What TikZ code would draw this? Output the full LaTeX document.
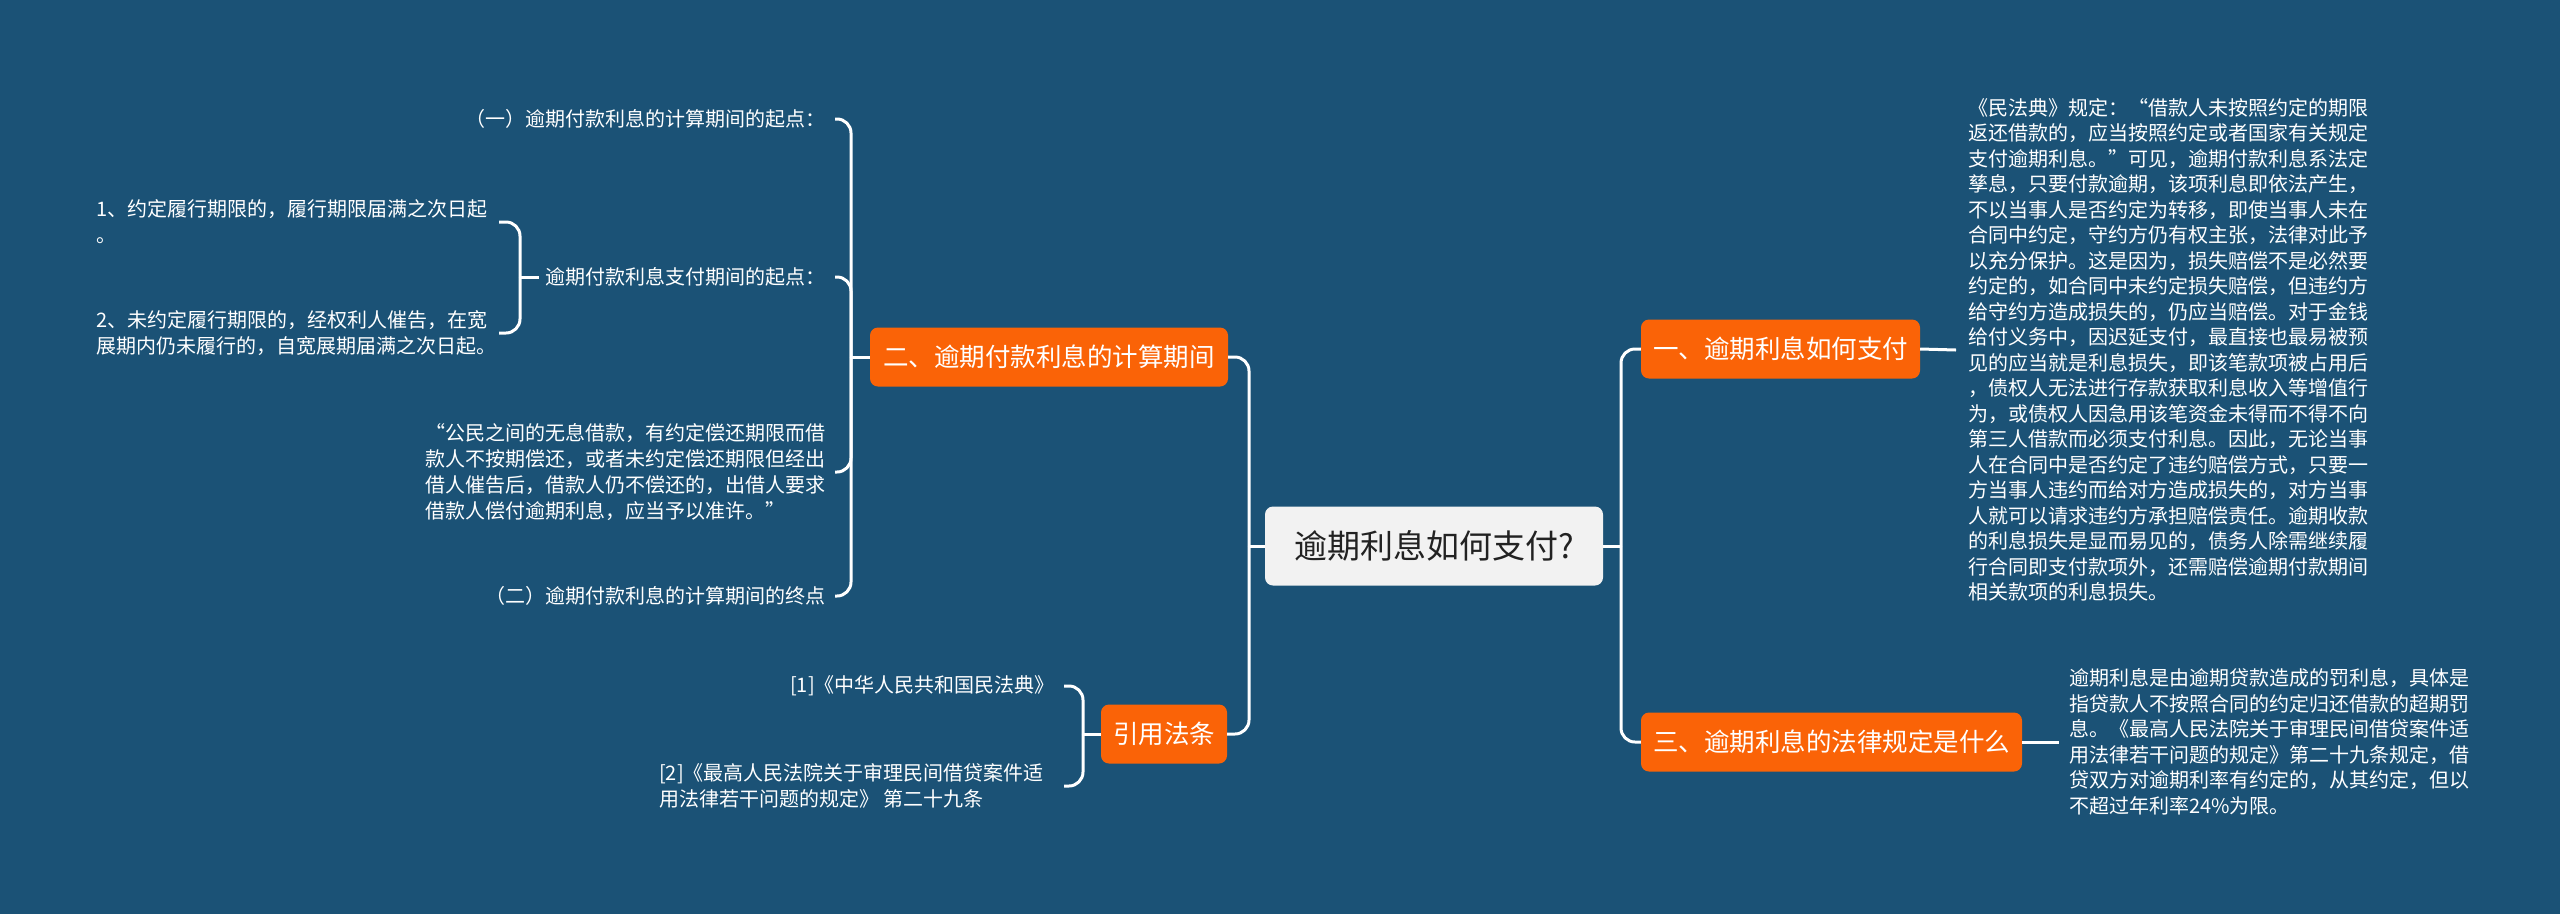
\documentclass[tikz,border=0pt]{standalone}
\usepackage{fontspec}
\setmainfont{Noto Sans CJK SC}
\definecolor{bgc}{RGB}{27,82,118}
\definecolor{orc}{RGB}{250,99,7}
\definecolor{cfill}{RGB}{242,242,242}
\definecolor{ctext}{RGB}{34,34,34}
\begin{document}
\begin{tikzpicture}[x=1pt,y=-1pt,
  obox/.style={fill=orc,text=white,rounded corners=8pt,font=\fontsize{25.5}{30}\selectfont,minimum height=59pt,inner xsep=0pt,inner ysep=0pt},
  cbox/.style={fill=cfill,text=ctext,rounded corners=8pt,font=\fontsize{33}{38}\selectfont,minimum width=338pt,minimum height=79pt,inner sep=0pt},
  leaf/.style={text=white,font=\fontsize{20}{26}\selectfont,inner sep=0pt,align=left},
  rleaf/.style={text=white,font=\fontsize{20}{25.5}\selectfont,inner sep=0pt,align=left},
  link/.style={draw=white,line width=3pt,rounded corners=14pt},
]
\fill[bgc] (0,0) rectangle (2560,914);
\useasboundingbox (0,0) rectangle (2560,914);

% main nodes
\node[cbox] (c) at (1434,546) {逾期利息如何支付?};
\node[obox,minimum width=279pt] (n1) at (1780.5,349) {一、逾期利息如何支付};
\node[obox,minimum width=381pt] (n3) at (1831.5,742) {三、逾期利息的法律规定是什么};
\node[obox,minimum width=358pt] (n2) at (1049,357) {二、逾期付款利息的计算期间};
\node[obox,minimum width=126pt] (n4) at (1164,734) {引用法条};

% right texts
\node[rleaf,anchor=west] (t1) at (1968,350) {《民法典》规定：“借款人未按照约定的期限\\返还借款的，应当按照约定或者国家有关规定\\支付逾期利息。”可见，逾期付款利息系法定\\孳息，只要付款逾期，该项利息即依法产生，\\不以当事人是否约定为转移，即使当事人未在\\合同中约定，守约方仍有权主张，法律对此予\\以充分保护。这是因为，损失赔偿不是必然要\\约定的，如合同中未约定损失赔偿，但违约方\\给守约方造成损失的，仍应当赔偿。对于金钱\\给付义务中，因迟延支付，最直接也最易被预\\见的应当就是利息损失，即该笔款项被占用后\\，债权人无法进行存款获取利息收入等增值行\\为，或债权人因急用该笔资金未得而不得不向\\第三人借款而必须支付利息。因此，无论当事\\人在合同中是否约定了违约赔偿方式，只要一\\方当事人违约而给对方造成损失的，对方当事\\人就可以请求违约方承担赔偿责任。逾期收款\\的利息损失是显而易见的，债务人除需继续履\\行合同即支付款项外，还需赔偿逾期付款期间\\相关款项的利息损失。};
\node[rleaf,anchor=west] (t3) at (2069,742) {逾期利息是由逾期贷款造成的罚利息，具体是\\指贷款人不按照合同的约定归还借款的超期罚\\息。《最高人民法院关于审理民间借贷案件适\\用法律若干问题的规定》第二十九条规定，借\\贷双方对逾期利率有约定的，从其约定，但以\\不超过年利率24\%为限。};

% left leaves of n2
\node[leaf,anchor=east] (la) at (826,119) {（一）逾期付款利息的计算期间的起点：};
\node[leaf,anchor=east] (lb) at (826,277) {逾期付款利息支付期间的起点：};
\node[leaf,anchor=east] (lc) at (826,472) {“公民之间的无息借款，有约定偿还期限而借\\款人不按期偿还，或者未约定偿还期限但经出\\借人催告后，借款人仍不偿还的，出借人要求\\借款人偿付逾期利息，应当予以准许。”};
\node[leaf,anchor=east] (ld) at (826,596) {（二）逾期付款利息的计算期间的终点};

% sub leaves of lb
\node[leaf,anchor=west] (i1) at (96,222) {1、约定履行期限的，履行期限届满之次日起\\。};
\node[leaf,anchor=west] (i2) at (96,333) {2、未约定履行期限的，经权利人催告，在宽\\展期内仍未履行的，自宽展期届满之次日起。};

% leaves of n4
\node[leaf,anchor=east] (r1) at (1055,686) {[1]《中华人民共和国民法典》};
\node[leaf,anchor=west] (r2) at (659,786) {[2]《最高人民法院关于审理民间借贷案件适\\用法律若干问题的规定》 第二十九条};

% junction coordinates
\coordinate (rj) at (1621,546);
\coordinate (lj) at (1249,546);
\coordinate (bj2) at (851,357);
\coordinate (bjb) at (520,277);
\coordinate (bj4) at (1083,734);
\coordinate (armb) at (499,0);
\coordinate (arm4) at (1064,0);

% connectors
\draw[link] (c.east) -- (rj);
\draw[link] (rj) |- (n1.west);
\draw[link] (rj) |- (n3.west);
\draw[link] (c.west) -- (lj);
\draw[link] (lj) |- (n2.east);
\draw[link] (lj) |- (n4.east);
\draw[link] (n1.east) -- ([xshift=-12pt]t1.west);
\draw[link] (n3.east) -- ([xshift=-10pt]t3.west);

\draw[link] (n2.west) -- (bj2);
\draw[link] (bj2) |- ([xshift=9pt]la.east);
\draw[link] (bj2) |- ([xshift=9pt]lb.east);
\draw[link] (bj2) |- ([xshift=9pt]lc.east);
\draw[link] (bj2) |- ([xshift=9pt]ld.east);

\draw[link] ([xshift=-7pt]lb.west) -- (bjb);
\draw[link] (bjb) |- (i1.east -| armb);
\draw[link] (bjb) |- (i2.east -| armb);

\draw[link] (n4.west) -- (bj4);
\draw[link] (bj4) |- (r1.east -| arm4);
\draw[link] (bj4) |- (r2.east -| arm4);
\end{tikzpicture}
\end{document}
